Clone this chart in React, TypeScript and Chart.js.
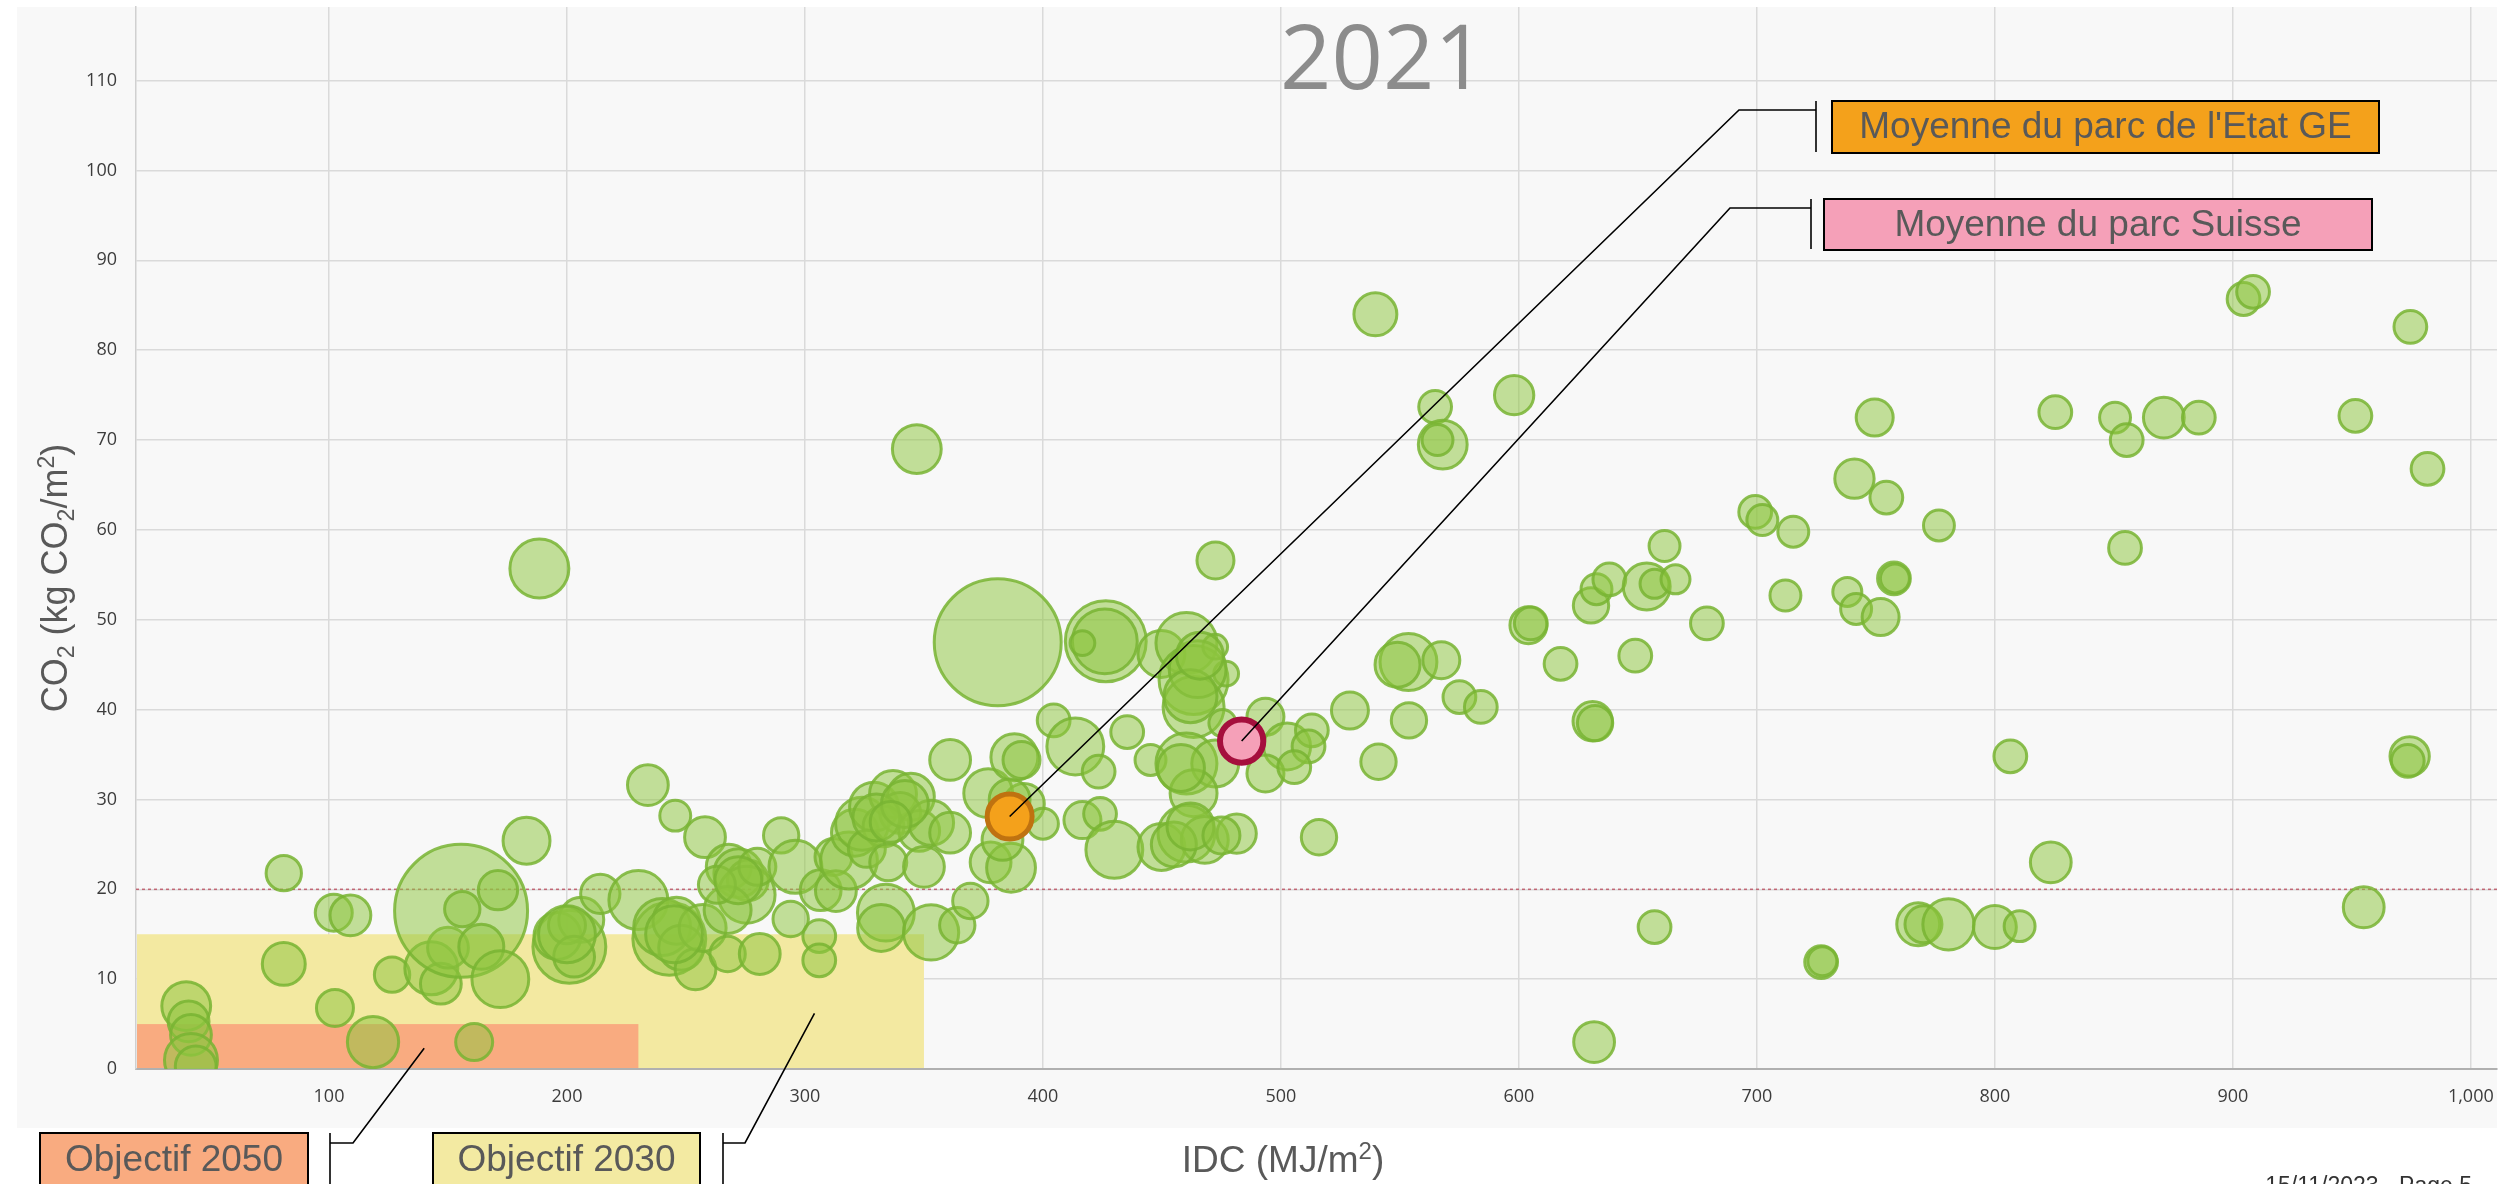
import React, { useEffect, useRef } from "react";
import { Chart, registerables } from "chart.js";

Chart.register(...registerables);

const W = 2514;
const H = 1184;

// ---------- axis ticks ----------
const xTickValues = [100, 200, 300, 400, 500, 600, 700, 800, 900, 1000];
const xTickLabels = ["100", "200", "300", "400", "500", "600", "700", "800", "900", "1,000"];
const yTickValues = [0, 10, 20, 30, 40, 50, 60, 70, 80, 90, 100, 110];
const X_MIN = 18.9;
const X_MAX = 1011;
const Y_MIN = 0;
const Y_MAX = 118.2;

// ---------- buildings (IDC MJ/m2, CO2 kg/m2, surface) ----------
const idc = [
  40, 41, 42, 42, 44, 81, 81, 102, 109, 102.5,
  118.5, 126.5, 143, 147, 150, 155.5, 161, 156, 164, 172,
  183, 171, 201, 196, 206, 200, 203, 214, 230, 234,
  245.5, 258, 243, 240, 246, 248, 254, 257, 267.5, 268,
  272, 276, 275.5, 267.5, 280, 263, 281, 290, 296, 294,
  306, 306, 306.6, 312, 313, 318.5, 321, 324, 329, 337,
  344.5, 340, 333, 326, 335, 348, 353, 361, 350, 361,
  334, 332, 353, 364, 369.5, 377, 378, 388, 392, 386.6,
  383, 381, 188.4, 347, 404.5, 413.6, 391, 400, 416.6, 424,
  430, 423.4, 435.4, 426.4, 426, 416.6, 445.2, 449.8, 449.8, 460.3,
  463.3, 463.3, 472.4, 477, 475.4, 460.3, 472.4, 463.3, 460.3, 468,
  481.4, 455, 472.5, 493.5, 502.6, 513, 511.6, 493.5, 505.6, 516,
  529, 541, 539.7, 564.8, 568, 565.8, 598, 553.6, 549, 567.4,
  553.8, 575, 584, 604, 605, 617.5, 631, 632, 630.3, 632.6,
  638, 653.7, 657, 661.2, 665.8, 679, 648.9, 657, 631.6, 699.3,
  702.3, 715.3, 712, 738, 741.7, 752, 757.6, 758, 741, 754.4,
  749.5, 776.5, 727, 727.5, 767.8, 770, 780.5, 800, 810.4, 806.5,
  823.5, 825.4, 850.5, 855.4, 854.7, 871, 885.7, 904.5, 908.5, 951.5,
  955, 974.6, 981.8, 974.3, 973.5,
  330, 342, 336, 465, 462, 466, 458, 462, 475, 386, 200, 245, 272,
];
const co2 = [
  7.0, 5.3, 3.8, 1.0, 0.3, 21.8, 11.7, 17.4, 17.1, 6.8,
  3.0, 10.5, 11.2, 9.5, 13.5, 17.6, 3.0, 17.8, 13.6, 10.0,
  25.4, 19.9, 13.6, 14.8, 16.6, 16.0, 12.5, 19.5, 18.8, 31.6,
  28.2, 25.8, 14.5, 15.8, 16.5, 13.5, 11.1, 15.7, 12.8, 22.5,
  21.8, 21.0, 19.4, 17.7, 22.5, 20.5, 12.8, 26.0, 22.5, 16.7,
  14.8, 12.1, 19.9, 23.6, 19.8, 23.2, 26.3, 27.3, 29.2, 30.6,
  30.3, 28.5, 27.0, 24.5, 23.0, 26.5, 27.4, 26.3, 22.5, 34.4,
  17.4, 15.7, 15.2, 16.0, 18.7, 30.7, 23.0, 34.7, 29.5, 22.4,
  25.5, 47.5, 55.7, 69.0, 38.8, 35.9, 34.4, 27.3, 27.7, 28.4,
  24.4, 33.1, 37.5, 47.6, 47.6, 47.4, 34.4, 24.7, 46.2, 47.4,
  43.3, 40.3, 47.0, 44.0, 38.5, 34.0, 34.0, 30.7, 26.2, 25.5,
  26.2, 25.0, 56.6, 39.2, 35.9, 37.7, 35.9, 32.9, 33.6, 25.8,
  39.9, 34.2, 84.0, 73.7, 69.5, 70.0, 75.0, 45.3, 45.0, 45.5,
  38.8, 41.4, 40.3, 49.4, 49.6, 45.1, 38.7, 38.5, 51.6, 53.4,
  54.5, 53.7, 54.0, 58.2, 54.5, 49.6, 46.0, 15.8, 3.0, 62.0,
  61.1, 59.8, 52.7, 53.1, 51.2, 50.3, 54.6, 54.6, 65.7, 63.6,
  72.5, 60.5, 11.9, 12.0, 16.1, 16.1, 16.1, 15.8, 15.9, 34.8,
  23.0, 73.1, 72.5, 70.0, 58.0, 72.5, 72.5, 85.7, 86.5, 72.7,
  18.0, 82.6, 66.8, 34.8, 34.3,
  28.0, 29.5, 27.5, 44.5, 41.5, 46.0, 33.5, 27.0, 26.0, 30.0, 15.0, 15.0, 21.0,
];
const surface = [
  42, 30, 30, 49, 30, 23, 33, 25, 30, 25,
  46, 23, 49, 30, 30, 289, 25, 23, 36, 56,
  39, 28, 90, 39, 36, 25, 30, 28, 60, 30,
  18, 30, 90, 56, 39, 36, 30, 39, 23, 36,
  42, 30, 56, 39, 25, 25, 30, 23, 49, 23,
  20, 20, 30, 25, 30, 56, 39, 49, 42, 39,
  39, 30, 30, 25, 25, 30, 36, 30, 30, 30,
  56, 39, 53, 23, 23, 42, 30, 39, 30, 42,
  30, 264, 60, 42, 20, 56, 25, 18, 25, 20,
  56, 20, 20, 110, 72, 12, 18, 39, 39, 64,
  81, 64, 12, 12, 14, 64, 39, 39, 56, 39,
  28, 36, 25, 25, 39, 20, 20, 25, 20, 23,
  25, 23, 33, 20, 42, 18, 28, 56, 36, 25,
  23, 20, 20, 25, 20, 20, 28, 23, 23, 18,
  20, 39, 16, 18, 16, 20, 20, 20, 30, 20,
  18, 18, 18, 16, 18, 25, 20, 16, 28, 20,
  25, 18, 20, 16, 33, 25, 46, 33, 18, 20,
  30, 20, 18, 20, 20, 30, 20, 20, 20, 20,
  30, 20, 20, 28, 20,
  39, 39, 30, 56, 49, 39, 39, 39, 25, 30, 56, 56, 39,
];

// ---------- averages ----------
const parcGE = { idc: 386, co2: 28.1, surface: 39 };
const parcCH = { idc: 483.5, co2: 36.5, surface: 38 };

// ---------- objectives ----------
const objective2050 = { idcMax: 230, co2Max: 5, anchorIdc: 140, anchorCo2: 2.3 };
const objective2030 = { idcMax: 350, co2Max: 15, anchorIdc: 304, anchorCo2: 6.2 };
const co2Threshold = 20;

const titleText = "2021";
const labelGE = "Moyenne du parc de l'Etat GE";
const labelCH = "Moyenne du parc Suisse";
const label2050 = "Objectif 2050";
const label2030 = "Objectif 2030";
const footerText = "15/11/2023 - Page 5";

const GREEN_BORDER = 3;
const bubbleRadius = (s: number, border: number) => 4 * Math.sqrt(s) - border / 2;

const TICK_FONT = "'Open Sans', 'Noto Sans', sans-serif";
const LABEL_FONT = "'Liberation Sans', Arial, sans-serif";

const PLOT_RIGHT = 2497;
const PANEL_LEFT = 17;
const PANEL_BOTTOM = 1128;

type Seg = { t: string; s?: "sub" | "sup" };

function drawRich(ctx: CanvasRenderingContext2D, segs: Seg[], cx: number, baseline: number, size: number, color: string) {
  const small = Math.round(size * 0.64);
  let total = 0;
  for (const g of segs) {
    ctx.font = `${g.s ? small : size}px ${LABEL_FONT}`;
    total += ctx.measureText(g.t).width;
  }
  let x = cx - total / 2;
  ctx.fillStyle = color;
  ctx.textAlign = "left";
  ctx.textBaseline = "alphabetic";
  for (const g of segs) {
    ctx.font = `${g.s ? small : size}px ${LABEL_FONT}`;
    const dy = g.s === "sub" ? size * 0.2 : g.s === "sup" ? -size * 0.36 : 0;
    ctx.fillText(g.t, x, baseline + dy);
    x += ctx.measureText(g.t).width;
  }
}

function drawBox(ctx: CanvasRenderingContext2D, x: number, y: number, w: number, h: number, fill: string, text: string, size: number, textY?: number) {
  ctx.fillStyle = fill;
  ctx.fillRect(x, y, w, h);
  ctx.lineWidth = 2;
  ctx.strokeStyle = "#000";
  ctx.strokeRect(x, y, w, h);
  ctx.fillStyle = "#595959";
  ctx.font = `${size}px ${LABEL_FONT}`;
  ctx.textAlign = "center";
  ctx.textBaseline = "middle";
  ctx.fillText(text, x + w / 2, textY !== undefined ? textY : y + h / 2 + 1);
}

function line(ctx: CanvasRenderingContext2D, pts: number[][]) {
  ctx.beginPath();
  ctx.moveTo(pts[0][0], pts[0][1]);
  for (let i = 1; i < pts.length; i++) ctx.lineTo(pts[i][0], pts[i][1]);
  ctx.stroke();
}

const decorPlugin = {
  id: "decor",
  beforeDraw(chart: any) {
    const ctx = chart.ctx as CanvasRenderingContext2D;
    ctx.save();
    ctx.fillStyle = "#ffffff";
    ctx.fillRect(0, 0, chart.width, chart.height);
    ctx.fillStyle = "#f8f8f8";
    ctx.fillRect(PANEL_LEFT, chart.chartArea.top, chart.chartArea.right - PANEL_LEFT, PANEL_BOTTOM - chart.chartArea.top);
    ctx.restore();
  },
  beforeDatasetsDraw(chart: any) {
    const ctx = chart.ctx as CanvasRenderingContext2D;
    const xs = chart.scales.x;
    const ys = chart.scales.y;
    const left = chart.chartArea.left;
    const y0 = ys.getPixelForValue(0);
    ctx.save();
    ctx.fillStyle = "rgb(243,233,161)";
    const x30 = xs.getPixelForValue(objective2030.idcMax);
    const y30 = ys.getPixelForValue(objective2030.co2Max);
    ctx.fillRect(left + 1, y30, x30 - left - 1, y0 - y30 - 1);
    ctx.fillStyle = "rgb(249,171,128)";
    const x50 = xs.getPixelForValue(objective2050.idcMax);
    const y50 = ys.getPixelForValue(objective2050.co2Max);
    ctx.fillRect(left + 1, y50, x50 - left - 1, y0 - y50 - 1);
    // threshold dotted line
    const yt = ys.getPixelForValue(co2Threshold);
    ctx.strokeStyle = "rgba(190,90,105,0.9)";
    ctx.lineWidth = 1.5;
    ctx.setLineDash([3, 3]);
    line(ctx, [[left, yt], [chart.chartArea.right, yt]]);
    ctx.restore();
  },
  afterDatasetsDraw(chart: any) {
    const ctx = chart.ctx as CanvasRenderingContext2D;
    const xs = chart.scales.x;
    const ys = chart.scales.y;
    ctx.save();
    // title
    ctx.fillStyle = "#8c8c8c";
    ctx.font = `90px ${TICK_FONT}`;
    ctx.textAlign = "center";
    ctx.textBaseline = "alphabetic";
    ctx.fillText(titleText, 1383, 89);

    // leader lines
    ctx.strokeStyle = "#000";
    ctx.lineWidth = 1.6;
    const gx = xs.getPixelForValue(parcGE.idc);
    const gy = ys.getPixelForValue(parcGE.co2);
    line(ctx, [[gx, gy], [1739, 110], [1816, 110]]);
    line(ctx, [[1816, 101], [1816, 152]]);
    const cxp = xs.getPixelForValue(parcCH.idc);
    const cyp = ys.getPixelForValue(parcCH.co2);
    line(ctx, [[cxp, cyp], [1730, 208], [1811, 208]]);
    line(ctx, [[1811, 199], [1811, 249]]);
    const a50x = xs.getPixelForValue(objective2050.anchorIdc);
    const a50y = ys.getPixelForValue(objective2050.anchorCo2);
    line(ctx, [[a50x, a50y], [353, 1143], [330, 1143]]);
    line(ctx, [[330, 1133], [330, 1190]]);
    const a30x = xs.getPixelForValue(objective2030.anchorIdc);
    const a30y = ys.getPixelForValue(objective2030.anchorCo2);
    line(ctx, [[a30x, a30y], [745, 1143], [723, 1143]]);
    line(ctx, [[723, 1133], [723, 1190]]);

    // boxes
    drawBox(ctx, 1832, 101, 547, 52, "#F4A11B", labelGE, 37);
    drawBox(ctx, 1824, 199, 548, 51, "#F5A0B8", labelCH, 37);
    drawBox(ctx, 40, 1133, 268, 56, "rgb(249,171,128)", label2050, 37, 1161);
    drawBox(ctx, 433, 1133, 267, 56, "rgb(243,234,162)", label2030, 37, 1161);

    // axis titles
    drawRich(ctx, [{ t: "IDC (MJ/m" }, { t: "2", s: "sup" }, { t: ")" }], 1283, 1172, 37, "#595959");
    ctx.save();
    ctx.translate(55, 578);
    ctx.rotate(-Math.PI / 2);
    drawRich(
      ctx,
      [{ t: "CO" }, { t: "2", s: "sub" }, { t: " (kg CO" }, { t: "2", s: "sub" }, { t: "/m" }, { t: "2", s: "sup" }, { t: ")" }],
      0,
      12,
      36,
      "#595959"
    );
    ctx.restore();

    // footer (cut off by the bottom edge, as in the original)
    ctx.fillStyle = "#333";
    ctx.font = `23px ${LABEL_FONT}`;
    ctx.textAlign = "right";
    ctx.textBaseline = "alphabetic";
    ctx.fillText(footerText, 2472, 1193);
    ctx.restore();
  },
};

export default function App() {
  const ref = useRef<HTMLCanvasElement>(null);
  useEffect(() => {
    const canvas = ref.current;
    if (!canvas) return;
    const greenData = idc.map((v, i) => ({ x: v, y: co2[i], r: bubbleRadius(surface[i], GREEN_BORDER) }));
    const chart = new Chart(canvas, {
      type: "bubble",
      data: {
        datasets: [
          {
            label: labelGE,
            data: [{ x: parcGE.idc, y: parcGE.co2, r: bubbleRadius(parcGE.surface, 5) }],
            backgroundColor: "#F4A11B",
            borderColor: "#BF7210",
            borderWidth: 5,
            order: 1,
          },
          {
            label: labelCH,
            data: [{ x: parcCH.idc, y: parcCH.co2, r: bubbleRadius(parcCH.surface, 6) }],
            backgroundColor: "#F5A0B8",
            borderColor: "#A50F3D",
            borderWidth: 6,
            order: 2,
          },
          {
            label: "Bâtiments",
            data: greenData,
            backgroundColor: "rgba(141,198,63,0.52)",
            borderColor: "rgba(120,180,50,0.85)",
            borderWidth: GREEN_BORDER,
            order: 3,
            clip: 0,
          } as any,
        ],
      },
      options: {
        responsive: false,
        animation: false,
        devicePixelRatio: 1,
        events: [],
        layout: { autoPadding: false, padding: { left: 0, top: 7, right: W - PLOT_RIGHT, bottom: 0 } },
        plugins: { legend: { display: false }, tooltip: { enabled: false }, title: { display: false } },
        scales: {
          x: {
            type: "linear",
            min: X_MIN,
            max: X_MAX,
            afterBuildTicks: (s: any) => {
              s.ticks = xTickValues.map((v) => ({ value: v }));
            },
            afterFit: (s: any) => {
              s.height = 115;
              s.paddingLeft = 0;
              s.paddingRight = 0;
              s.paddingTop = 0;
              s.paddingBottom = 0;
            },
            ticks: {
              callback: (v: any) => {
                const i = xTickValues.indexOf(Number(v));
                return i >= 0 ? xTickLabels[i] : "";
              },
              font: { family: TICK_FONT, size: 18 },
              color: "#3c3c3c",
              padding: 17,
              maxRotation: 0,
              autoSkip: false,
            },
            grid: { color: "#dadada", lineWidth: 1.5, drawTicks: false },
            border: { color: "#b0b0b0", width: 2 },
          },
          y: {
            type: "linear",
            min: Y_MIN,
            max: Y_MAX,
            afterBuildTicks: (s: any) => {
              s.ticks = yTickValues.map((v) => ({ value: v }));
            },
            afterFit: (s: any) => {
              s.width = 136;
              s.paddingLeft = 0;
              s.paddingRight = 0;
              s.paddingTop = 0;
              s.paddingBottom = 0;
            },
            ticks: {
              font: { family: TICK_FONT, size: 18 },
              color: "#3c3c3c",
              padding: 19,
              autoSkip: false,
            },
            grid: { color: "#dadada", lineWidth: 1.5, drawTicks: false },
            border: { color: "#d0d0d0", width: 1.5 },
          },
        },
      } as any,
      plugins: [decorPlugin as any],
    });
    return () => chart.destroy();
  }, []);
  return (
    <div style={{ position: "fixed", left: 0, top: 0, width: W, height: H, background: "#fff" }}>
      <canvas ref={ref} width={W} height={H} style={{ width: W, height: H, display: "block" }} />
    </div>
  );
}
